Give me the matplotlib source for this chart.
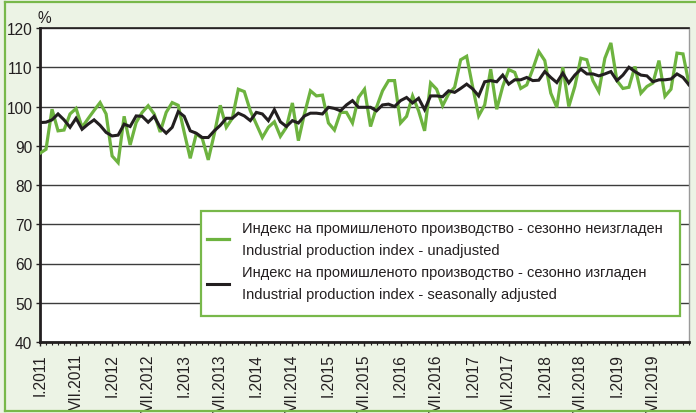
import numpy as np
import matplotlib
matplotlib.use("Agg")
import matplotlib.pyplot as plt
from matplotlib.patches import Rectangle
from matplotlib.lines import Line2D

# Monthly industrial production index, I.2011 - I.2020
months = np.arange(109)

unadjusted = [
    88.1, 89.1, 99.3, 93.8, 94.0, 98.1, 99.5, 94.7, 96.9, 99.0, 101.0, 98.1,
    87.4, 85.7, 97.5, 90.2, 95.9, 98.5, 100.2, 98.1, 93.5, 98.5, 101.0, 100.3,
    93.4, 86.8, 93.0, 91.9, 86.4, 93.0, 100.3, 94.7, 97.0, 104.4, 103.8, 98.9,
    95.5, 92.1, 94.7, 96.1, 92.4, 94.7, 100.9, 91.3, 98.1, 104.0, 102.7, 102.9,
    95.8, 94.0, 98.5, 98.5, 95.8, 102.3, 104.4, 94.9, 99.8, 104.0, 106.6, 106.6,
    95.8, 97.5, 102.7, 98.9, 93.8, 106.0, 104.4, 100.2, 103.2, 104.9, 111.9, 112.8,
    105.0, 97.6, 100.4, 109.5, 99.3, 105.1, 109.4, 108.7, 104.6, 105.5, 109.5, 114.0,
    111.7, 103.4, 99.8, 110.0, 100.0, 105.1, 112.3, 111.9, 106.6, 103.8, 112.3, 116.2,
    106.6, 104.6, 104.9, 110.2, 103.4, 105.1, 106.0, 111.7, 102.6, 104.4, 113.6, 113.4,
    105.7,
]

adjusted = [
    95.9, 96.0, 96.6, 98.1, 96.6, 94.7, 97.0, 94.2, 95.5, 96.6, 95.2, 93.4,
    92.5, 92.7, 95.5, 94.9, 97.6, 97.5, 96.0, 97.5, 94.7, 93.2, 94.7, 98.7,
    97.5, 93.8, 93.2, 92.1, 92.1, 93.8, 95.2, 97.0, 97.0, 98.3, 97.6, 96.4,
    98.5, 98.1, 96.4, 99.2, 96.1, 94.9, 96.4, 95.8, 97.6, 98.3, 98.3, 98.1,
    99.8, 99.5, 98.9, 100.4, 101.5, 99.8, 99.8, 99.8, 98.9, 100.4, 100.6, 100.0,
    101.5, 102.3, 100.9, 102.1, 99.2, 102.7, 102.7, 102.5, 104.0, 103.6, 104.6, 105.7,
    104.5, 102.7, 106.3, 106.6, 106.3, 108.0, 105.7, 106.8, 106.8, 107.4, 106.6, 106.7,
    108.9, 107.4, 106.1, 108.5, 106.0, 108.0, 109.5, 108.3, 108.3, 107.8, 108.3, 108.9,
    106.6, 108.0, 110.0, 108.9, 108.0, 107.8, 106.3, 106.8, 106.8, 107.0, 108.3, 107.4,
    105.5,
]

years = list(range(2011, 2020))
tick_labels = [f"{m}.{y}" for y in years for m in ("I", "VII")]
tick_positions = np.arange(0, 6 * len(tick_labels), 6)

label_unadj = ("Индекс на промишленото производство - сезонно неизгладен\n"
               "Industrial production index - unadjusted")
label_adj = ("Индекс на промишленото производство - сезонно изгладен\n"
             "Industrial production index - seasonally adjusted")

GREEN = "#6db33f"
FRAME_GREEN = "#78b84a"
BLACK = "#231f20"
BG = "#ecf3e5"

plt.rcParams["font.family"] = ["Liberation Sans", "DejaVu Sans"]

W, H = 696, 414
fig = plt.figure(figsize=(W / 100, H / 100), dpi=100, facecolor=BG)

# outer green border of the chart panel
def px_line(xs, ys, **kw):
    fig.add_artist(Line2D([x / W for x in xs], [1 - y / H for y in ys],
                          transform=fig.transFigure, **kw))

px_line([4.5, 4.5], [2.5, 411.5], color=FRAME_GREEN, lw=1.6)
px_line([4.5, 700], [2.5, 2.5], color=FRAME_GREEN, lw=1.6)
px_line([4.5, 700], [411.5, 411.5], color=FRAME_GREEN, lw=1.6)

ax = fig.add_axes([40 / W, 1 - 343 / H, 649 / W, 314 / H])
ax.set_facecolor("white")

ax.plot(months, unadjusted, color=GREEN, lw=2.3, solid_joinstyle="miter",
        label=label_unadj, zorder=3)
ax.plot(months, adjusted, color=BLACK, lw=2.2, solid_joinstyle="miter",
        label=label_adj, zorder=4)

ax.set_xlim(0, 108)
ax.set_ylim(40, 120)

ax.set_yticks(range(40, 121, 10))
ax.yaxis.grid(True, color="#3c3c3c", lw=1.0)
ax.set_axisbelow(True)
ax.tick_params(axis="y", length=3, width=1, pad=2.5, labelsize=11.2,
               colors="#231f20")

ax.set_xticks(tick_positions)
ax.set_xticklabels(tick_labels, rotation=90, va="top", ha="center")
ax.set_xticks(months, minor=True)
ax.tick_params(axis="x", which="major", length=3, width=1, pad=5,
               labelsize=11.2, colors="#231f20")
ax.tick_params(axis="x", which="minor", length=2.5, width=0.8, colors="#231f20")

for side in ("left", "bottom"):
    ax.spines[side].set_color(BLACK)
    ax.spines[side].set_linewidth(2.0)
ax.spines["top"].set_color(BLACK)
ax.spines["top"].set_linewidth(1.2)
ax.spines["right"].set_color("#9a9a9a")
ax.spines["right"].set_linewidth(1.0)

fig.text(38 / W, 1 - 23 / H, "%", fontsize=11.2, ha="left", va="baseline",
         color="#231f20")

# legend box
x0, x1 = (201 - 40) / 649, (680 - 40) / 649
y0, y1 = (343 - 317) / 314, (343 - 212) / 314
ax.add_patch(Rectangle((x0, y0), x1 - x0, y1 - y0, transform=ax.transAxes,
                       facecolor="white", edgecolor=FRAME_GREEN, lw=1.6,
                       zorder=5))
leg = ax.legend(loc="center left", bbox_to_anchor=((207 - 40) / 649, (343 - 262) / 314),
                frameon=False, borderpad=0, borderaxespad=0, handlelength=1.5,
                handletextpad=0.9, labelspacing=0.57,
                prop={"family": ["Liberation Sans", "DejaVu Sans"], "size": 10.5})
leg.set_zorder(6)
for t in leg.get_texts():
    t.set_linespacing(1.75)
    t.set_color("#231f20")

fig.savefig("out.png", dpi=100, facecolor=BG)
